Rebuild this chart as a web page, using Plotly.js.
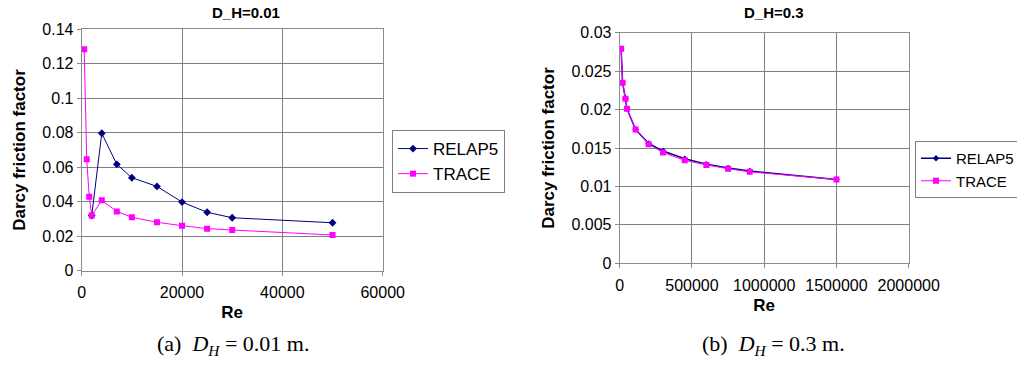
<!DOCTYPE html>
<html>
<head>
<meta charset="utf-8">
<script src="https://cdn.plot.ly/plotly-3.0.1.min.js"></script>
<style>html,body{margin:0;padding:0;background:#fff;}#chart{width:1017px;height:378px;}</style>
</head>
<body>
<div id="chart"></div>
<script>
// Panel (a): D_H = 0.01
const reA_relap = [2000, 4000, 7000, 10000, 15000, 20000, 25000, 30000, 50000];
const fA_relap  = [0.032, 0.0797, 0.0617, 0.0539, 0.0489, 0.0398, 0.0339, 0.0307, 0.0278];
const reA_trace = [500, 1000, 1500, 2000, 4000, 7000, 10000, 15000, 20000, 25000, 30000, 50000];
const fA_trace  = [0.1285, 0.0646, 0.0429, 0.0320, 0.0408, 0.0344, 0.0310, 0.0281, 0.0261, 0.0244, 0.0236, 0.0207];

// Panel (b): D_H = 0.3
const reB_relap = [10000, 20000, 40000, 50000, 110000, 200000, 300000, 450000, 600000, 750000, 900000, 1500000];
const fB_relap  = [0.0279, 0.0235, 0.0214, 0.0201, 0.0174, 0.0156, 0.0146, 0.0136, 0.0129, 0.0124, 0.0120, 0.0109];
const reB_trace = [10000, 20000, 40000, 50000, 110000, 200000, 300000, 450000, 600000, 750000, 900000, 1500000];
const fB_trace  = [0.0279, 0.0235, 0.0214, 0.0201, 0.0174, 0.0155, 0.0144, 0.0134, 0.0128, 0.0123, 0.0119, 0.0109];

const titles = ["D_H=0.01", "D_H=0.3"];
const captions = ["(a)  <i>D</i><sub><i>H</i></sub> = 0.01 m.", "(b)  <i>D</i><sub><i>H</i></sub> = 0.3 m."];
const seriesNames = ["RELAP5", "TRACE"];
const xTitle = "Re";
const yTitle = "Darcy friction factor";

const NAVY = "#000080", MAG = "#FF00FF";
const font = "Liberation Sans, Arial, sans-serif";
const serif = "Liberation Serif, DejaVu Serif, serif";

const traces = [
  {x: reA_relap, y: fA_relap, name: seriesNames[0], xaxis: "x", yaxis: "y", legend: "legend",
   mode: "lines+markers", line: {color: NAVY, width: 1}, marker: {symbol: "diamond", size: 6, color: NAVY}},
  {x: reA_trace, y: fA_trace, name: seriesNames[1], xaxis: "x", yaxis: "y", legend: "legend",
   mode: "lines+markers", line: {color: MAG, width: 1}, marker: {symbol: "square", size: 6, color: MAG}},
  {x: reB_relap, y: fB_relap, name: seriesNames[0], xaxis: "x2", yaxis: "y2", legend: "legend2",
   mode: "lines+markers", line: {color: NAVY, width: 1.5}, marker: {symbol: "diamond", size: 5, color: NAVY}},
  {x: reB_trace, y: fB_trace, name: seriesNames[1], xaxis: "x2", yaxis: "y2", legend: "legend2",
   mode: "lines+markers", line: {color: MAG, width: 1}, marker: {symbol: "square", size: 6, color: MAG}}
];

function ax(extra) {
  return Object.assign({
    showgrid: true, gridcolor: "#808080", gridwidth: 1,
    showline: true, linecolor: "#8c8c8c", linewidth: 1, mirror: true,
    ticks: "outside", ticklen: 4, tickcolor: "#8c8c8c",
    zeroline: false, fixedrange: true, automargin: false,
    tickfont: {family: font, size: 16, color: "#000"}
  }, extra);
}
const axTitleFont = {family: font, size: 17, color: "#000", weight: "bold"};

const H = 378, W = 1017;
function legendStyle(size) {
  return {xanchor: "left", yanchor: "top",
    bordercolor: "#808080", borderwidth: 1, bgcolor: "#fff",
    font: {family: font, size: size, color: "#000"}, itemwidth: 30, tracegroupgap: 0};
}

const layout = {
  width: W, height: H,
  margin: {l: 0, r: 0, t: 0, b: 0, autoexpand: false},
  paper_bgcolor: "#fff", plot_bgcolor: "#fff",
  showlegend: true,
  xaxis: ax({domain: [81.7/W, 382.7/W], range: [0, 60000], dtick: 20000, tickformat: "d",
    anchor: "y", ticklabelstandoff: 3, title: {text: xTitle, font: axTitleFont, standoff: 6}}),
  yaxis: ax({domain: [1 - 270.7/H, 1 - 29.3/H], range: [0, 0.14], dtick: 0.02,
    anchor: "x", title: {text: yTitle, font: axTitleFont, standoff: 12}}),
  xaxis2: ax({domain: [619.7/W, 908.7/W], range: [0, 2000000], dtick: 500000, tickformat: "d",
    anchor: "y2", ticklabelstandoff: 3, title: {text: xTitle, font: axTitleFont, standoff: 6}}),
  yaxis2: ax({domain: [1 - 263.3/H, 1 - 32.7/H], range: [0, 0.03], dtick: 0.005,
    anchor: "x2", title: {text: yTitle, font: axTitleFont, standoff: 12}}),
  legend: Object.assign({x: 392/W, y: 1 - 130/H}, legendStyle(17)),
  legend2: Object.assign({x: 915/W, y: 1 - 141/H}, legendStyle(15)),
  annotations: [
    {text: "<b>" + titles[0] + "</b>", x: 246/W, y: 1 - 12/H, xref: "paper", yref: "paper",
     xanchor: "center", yanchor: "middle", showarrow: false, font: {family: font, size: 15, color: "#000"}},
    {text: "<b>" + titles[1] + "</b>", x: 774/W, y: 1 - 12/H, xref: "paper", yref: "paper",
     xanchor: "center", yanchor: "middle", showarrow: false, font: {family: font, size: 15, color: "#000"}},
    {text: captions[0], x: 233/W, y: 1 - 345/H, xref: "paper", yref: "paper",
     xanchor: "center", yanchor: "middle", showarrow: false, font: {family: serif, size: 22, color: "#000"}},
    {text: captions[1], x: 773/W, y: 1 - 345/H, xref: "paper", yref: "paper",
     xanchor: "center", yanchor: "middle", showarrow: false, font: {family: serif, size: 22, color: "#000"}}
  ]
};

Plotly.newPlot("chart", traces, layout, {displayModeBar: false, staticPlot: true});
</script>
</body>
</html>
